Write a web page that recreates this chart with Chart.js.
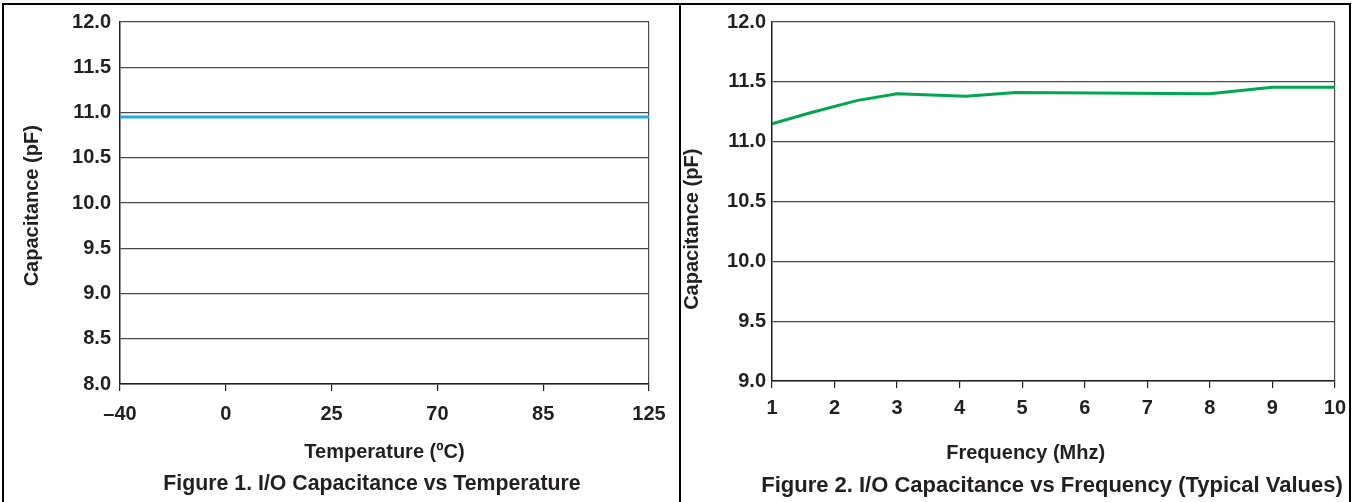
<!DOCTYPE html>
<html><head><meta charset="utf-8">
<script src="https://cdn.jsdelivr.net/npm/chart.js@4.4.1/dist/chart.umd.min.js"></script>
<style>
html,body{margin:0;padding:0;background:#fff;width:1354px;height:502px;overflow:hidden;position:relative;font-family:"Liberation Sans",Arial,sans-serif;}
.frame{position:absolute;left:2px;top:3px;width:1349px;height:540px;border:2px solid #000;box-sizing:border-box;}
.divider{position:absolute;left:679px;top:3px;width:2px;height:540px;background:#000;}
#c1{position:absolute;left:0;top:0;}
#c2{position:absolute;left:680px;top:0;}
.cap{position:absolute;font-weight:bold;color:#231f20;white-space:nowrap;transform:translateX(-50%);line-height:24px;}
</style>
</head>
<body>
<div class="frame"></div>
<div class="divider"></div>
<canvas id="c1" width="679" height="502"></canvas>
<canvas id="c2" width="674" height="502"></canvas>
<div class="cap" id="cap1" style="left:372px;top:471px;font-size:21.3px;">Figure 1. I/O Capacitance vs Temperature</div>
<div class="cap" id="cap2" style="left:1052px;top:473px;font-size:22px;">Figure 2. I/O Capacitance vs Frequency (Typical Values)</div>
<script>
// ---- data ----
const tempLabels = ['\u201340', '0', '25', '70', '85', '125'];
const tempCap = [10.95, 10.95, 10.95, 10.95, 10.95, 10.95];
const freqMHz = [1, 1.6, 2.37, 3, 4.1, 4.9, 8, 9, 10];
const freqCap = [11.15, 11.24, 11.345, 11.40, 11.38, 11.41, 11.40, 11.455, 11.455];
const tempYRange = [8, 12];
const freqYRange = [9, 12];
const freqXRange = [1, 10];
const yStep = 0.5;

const FAM = "'Liberation Sans', Arial, sans-serif";
const INK = '#231f20';
const GRID = '#4a4a4a';
Chart.defaults.font.family = FAM;
Chart.defaults.color = INK;

const tickFont = {family: FAM, size: 20, weight: 'bold'};
const titleFont = {family: FAM, size: 20, weight: 'bold'};
const NB = '\u00a0';

new Chart(document.getElementById('c1'), {
  type: 'line',
  data: {
    labels: tempLabels,
    datasets: [{data: tempCap, borderColor: '#22aae2', borderWidth: 3, pointRadius: 0, tension: 0, fill: false}]
  },
  options: {
    responsive: false, animation: false, devicePixelRatio: 1,
    layout: {padding: {top: 22, right: 30, bottom: 38, left: 0}},
    plugins: {legend: {display: false}, tooltip: {enabled: false}, title: {display: false}},
    scales: {
      x: {
        type: 'category', offset: false,
        grid: {
          drawOnChartArea: true,
          color: c => (c.index === tempLabels.length - 1 ? GRID : 'rgba(0,0,0,0)'),
          tickColor: INK, tickLength: 7, lineWidth: 1.2, tickWidth: 1.2
        },
        border: {color: INK, width: 1.5},
        ticks: {color: INK, font: tickFont, padding: 11, maxRotation: 0, autoSkip: false},
        title: {display: true, text: 'Temperature (\u00baC)', color: INK, font: titleFont, padding: {top: 0, bottom: 0}},
        afterFit: s => { s.height = 80; }
      },
      y: {
        min: tempYRange[0], max: tempYRange[1],
        grid: {color: GRID, drawTicks: false, lineWidth: 1.2},
        border: {color: INK, width: 1.5},
        ticks: {stepSize: yStep, callback: v => Number(v).toFixed(1), color: INK, font: tickFont, padding: 9},
        title: {display: true, text: 'Capacitance (pF)' + NB, color: INK, font: titleFont, padding: {top: 20, bottom: 0}},
        afterFit: s => { s.width = 120; }
      }
    }
  }
});

new Chart(document.getElementById('c2'), {
  type: 'line',
  data: {
    datasets: [{
      data: freqMHz.map((f, i) => ({x: f, y: freqCap[i]})),
      borderColor: '#00a651', borderWidth: 3, pointRadius: 0, tension: 0, fill: false
    }]
  },
  options: {
    responsive: false, animation: false, devicePixelRatio: 1,
    layout: {padding: {top: 22, right: 17, bottom: 37, left: 0}},
    plugins: {legend: {display: false}, tooltip: {enabled: false}, title: {display: false}},
    scales: {
      x: {
        type: 'linear', min: freqXRange[0], max: freqXRange[1],
        grid: {
          drawOnChartArea: true,
          color: c => (c.tick && c.tick.value === freqXRange[1] ? GRID : 'rgba(0,0,0,0)'),
          tickColor: INK, tickLength: 7, lineWidth: 1.2, tickWidth: 1.2
        },
        border: {color: INK, width: 1.5},
        ticks: {stepSize: 1, color: INK, font: tickFont, padding: 8, maxRotation: 0, autoSkip: false},
        title: {display: true, text: 'Frequency (Mhz)' + NB.repeat(10), color: INK, font: titleFont, padding: {top: 0, bottom: 0}},
        afterFit: s => { s.height = 84; }
      },
      y: {
        min: freqYRange[0], max: freqYRange[1],
        grid: {color: GRID, drawTicks: false, lineWidth: 1.2},
        border: {color: INK, width: 1.5},
        ticks: {stepSize: yStep, callback: v => Number(v).toFixed(1), color: INK, font: tickFont, padding: 6},
        title: {display: true, text: 'Capacitance (pF)' + NB.repeat(10), color: INK, font: titleFont, padding: {top: 0, bottom: 0}},
        afterFit: s => { s.width = 92; }
      }
    }
  }
});
</script>
</body></html>
